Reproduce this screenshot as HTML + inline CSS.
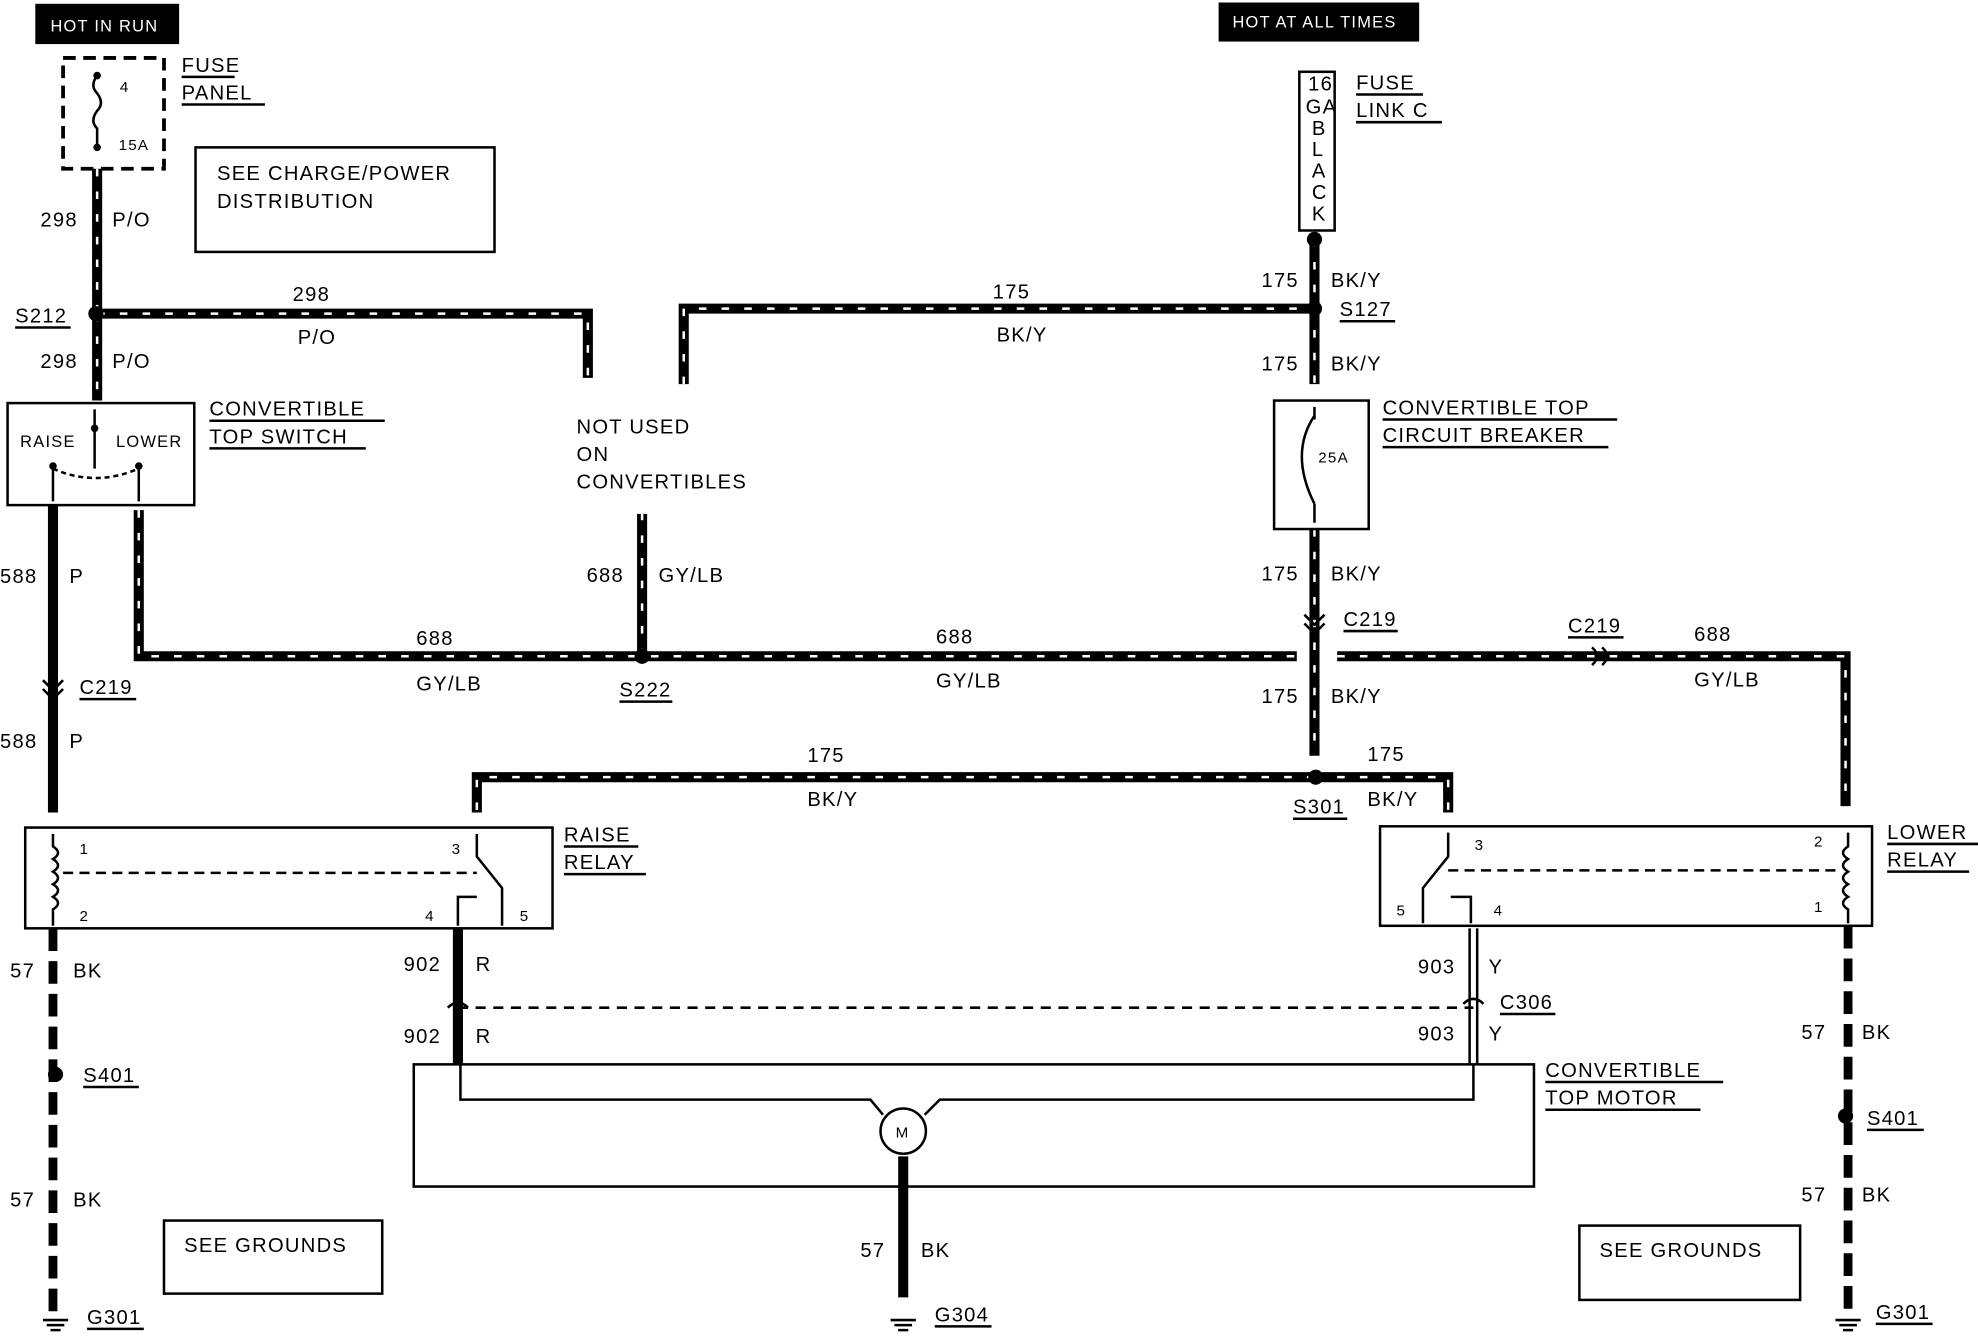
<!DOCTYPE html>
<html><head><meta charset="utf-8"><style>
html,body{margin:0;padding:0;background:#fff}
svg{display:block}
text{font-family:"Liberation Sans",sans-serif;font-size:16px;fill:#000;letter-spacing:1px}
.w{fill:none;stroke:#000;stroke-width:8}
.d{fill:none;stroke:#fff;stroke-width:2;stroke-dasharray:6 12}
.b{fill:none;stroke:#000;stroke-width:2}
.g{fill:none;stroke:#000;stroke-width:7;stroke-dasharray:18 8}
.s{fill:none;stroke:#000;stroke-width:8}
</style></head><body>
<svg width="1978" height="1344" viewBox="0 0 1568 1067" preserveAspectRatio="none">
<defs>
<path id="w1" d="M77 134 V249 M77 249 H466 V300 M77 249 V318" fill="none"/>
<path id="w2" d="M542 305 V245 H1042 M1042 190 V305" fill="none"/>
<path id="w3" d="M1042 420 V600 M1042 617 H378 V645 M1042 617 H1148 V645" fill="none"/>
<path id="w4" d="M110 405 V521 H1028 M509 521 V408 M1060 521 H1463 V640" fill="none"/>
</defs>
<rect x="28" y="3" width="114" height="32" fill="#000"/>
<text x="40" y="25" style="fill:#fff;font-size:13px">HOT IN RUN</text>
<rect x="966" y="2" width="159" height="31" fill="#000"/>
<text x="977" y="22" style="fill:#fff;font-size:13px">HOT AT ALL TIMES</text>

<rect x="50" y="46" width="80" height="88" fill="none" stroke="#000" stroke-width="3" stroke-dasharray="10 6"/>
<path d="M77 60 q-6 8 0 14 q6 8 0 14 q-6 8 0 14 v16" class="b"/>
<circle cx="77" cy="60" r="3"/><circle cx="77" cy="117" r="3"/>
<text x="95" y="73" style="font-size:12px">4</text>
<text x="94" y="119" style="font-size:12px">15A</text>
<text x="144" y="57">FUSE</text><text x="144" y="79">PANEL</text>
<line x1="144" y1="61" x2="186" y2="61" class="b"/><line x1="144" y1="83" x2="210" y2="83" class="b"/>
<rect x="155" y="117" width="237" height="83" class="b"/>
<text x="172" y="143">SEE CHARGE/POWER</text><text x="172" y="165">DISTRIBUTION</text>

<rect x="1030" y="57" width="28" height="126" class="b"/>
<g style="font-size:11px;letter-spacing:0">
<text x="1037" y="72">16</text><text x="1035" y="90">GA</text><text x="1040" y="107">B</text><text x="1040" y="124">L</text><text x="1040" y="141">A</text><text x="1040" y="158">C</text><text x="1040" y="175">K</text></g>
<text x="1075" y="71">FUSE</text><text x="1075" y="93">LINK C</text>
<line x1="1075" y1="75" x2="1128" y2="75" class="b"/><line x1="1075" y1="97" x2="1143" y2="97" class="b"/>

<use href="#w1" class="w"/><use href="#w1" class="d"/>
<use href="#w2" class="w"/><use href="#w2" class="d"/>
<use href="#w3" class="w"/><use href="#w3" class="d"/>
<use href="#w4" class="w"/><use href="#w4" class="d"/>
<path d="M42 401 V645 M363 737 V845 M716 918 V1030" class="s"/>
<path d="M1165 737 V845 M1171 737 V845" class="b"/>
<path d="M42 737 V1045 M1465 735 V1045" class="g"/>
<line x1="363" y1="800" x2="1168" y2="800" stroke="#000" stroke-width="2" stroke-dasharray="8 6"/>

<g>
<circle cx="76" cy="249" r="6"/><circle cx="1042" cy="190" r="6"/><circle cx="1042" cy="245" r="6"/>
<circle cx="509" cy="521" r="6"/><circle cx="1043" cy="617" r="6"/><circle cx="44" cy="853" r="6"/><circle cx="1463" cy="886" r="6"/>
</g>
<path d="M34 540 l8 8 l8-8 M34 547 l8 8 l8-8 M1034 488 l8 8 l8-8 M1034 495 l8 8 l8-8" class="b" stroke-width="3"/>
<path d="M1262 514 q8 7 0 14 M1270 514 q8 7 0 14" class="b" stroke-width="3"/>
<path d="M355 800 q8 -8 16 0 M1160 797 q8 -8 16 0" class="b" stroke-width="3"/>

<rect x="6" y="320" width="148" height="81" class="b"/>
<text x="16" y="355" style="font-size:13px">RAISE</text><text x="92" y="355" style="font-size:13px">LOWER</text>
<line x1="75" y1="325" x2="75" y2="372" class="b"/><circle cx="75" cy="340" r="3"/>
<path d="M42 372 q33 15 68 0" class="b" stroke-dasharray="4 3"/>
<circle cx="42" cy="370" r="3"/><circle cx="110" cy="370" r="3"/>
<line x1="42" y1="370" x2="42" y2="398" class="b"/><line x1="110" y1="370" x2="110" y2="398" class="b"/>
<text x="166" y="330">CONVERTIBLE</text><text x="166" y="352">TOP SWITCH</text>
<line x1="166" y1="334" x2="305" y2="334" class="b"/><line x1="166" y1="356" x2="290" y2="356" class="b"/>

<text x="457" y="344">NOT USED</text><text x="457" y="366">ON</text><text x="457" y="388">CONVERTIBLES</text>

<rect x="1010" y="318" width="75" height="102" class="b"/>
<path d="M1042 330 q-20 30 0 70 M1042 323 v10 M1042 400 v15" class="b"/>
<text x="1045" y="367" style="font-size:12px">25A</text>
<text x="1096" y="329">CONVERTIBLE TOP</text><text x="1096" y="351">CIRCUIT BREAKER</text>
<line x1="1096" y1="333" x2="1282" y2="333" class="b"/><line x1="1096" y1="355" x2="1275" y2="355" class="b"/>

<rect x="20" y="657" width="418" height="80" class="b"/>
<path d="M42 662 V672 q8 5 0 10 q8 5 0 10 q8 5 0 10 q8 5 0 10 q8 5 0 10 V735" class="b"/>
<line x1="50" y1="693" x2="378" y2="693" class="b" stroke-dasharray="8 5"/>
<text x="63" y="678" style="font-size:12px">1</text><text x="63" y="731" style="font-size:12px">2</text>
<path d="M378 662 V680 L398 705 V735 M363 735 V712 H378" class="b"/>
<text x="358" y="678" style="font-size:12px">3</text><text x="337" y="731" style="font-size:12px">4</text><text x="412" y="731" style="font-size:12px">5</text>
<text x="447" y="668">RAISE</text><text x="447" y="690">RELAY</text>
<line x1="447" y1="672" x2="506" y2="672" class="b"/><line x1="447" y1="694" x2="512" y2="694" class="b"/>

<rect x="1094" y="656" width="390" height="79" class="b"/>
<path d="M1465 661 V672 q-8 5 0 10 q-8 5 0 10 q-8 5 0 10 q-8 5 0 10 q-8 5 0 10 V733" class="b"/>
<line x1="1148" y1="691" x2="1455" y2="691" class="b" stroke-dasharray="8 5"/>
<text x="1438" y="672" style="font-size:12px">2</text><text x="1438" y="724" style="font-size:12px">1</text>
<path d="M1148 661 V680 L1128 705 V733 M1166 733 V712 H1150" class="b"/>
<text x="1169" y="675" style="font-size:12px">3</text><text x="1107" y="727" style="font-size:12px">5</text><text x="1184" y="727" style="font-size:12px">4</text>
<text x="1496" y="666">LOWER</text><text x="1496" y="688">RELAY</text>
<line x1="1496" y1="670" x2="1568" y2="670" class="b"/><line x1="1496" y1="692" x2="1561" y2="692" class="b"/>

<rect x="328" y="845" width="888" height="97" class="b"/>
<path d="M365 845 V873 H690 L700 885 M1168 845 V873 H745 L733 885" class="b"/>
<circle cx="716" cy="898" r="18" fill="#fff" stroke="#000" stroke-width="2"/>
<text x="710" y="903" style="font-size:12px">M</text>
<text x="1225" y="855">CONVERTIBLE</text><text x="1225" y="877">TOP MOTOR</text>
<line x1="1225" y1="859" x2="1366" y2="859" class="b"/><line x1="1225" y1="881" x2="1348" y2="881" class="b"/>

<g class="b">
<path d="M34 1048 h20 M37 1052 h14 M40 1056 h8"/>
<path d="M706 1048 h20 M709 1052 h14 M712 1056 h8"/>
<path d="M1455 1048 h20 M1458 1052 h14 M1461 1056 h8"/>
</g>
<rect x="130" y="969" width="173" height="58" class="b"/><text x="146" y="994">SEE GROUNDS</text>
<rect x="1252" y="973" width="175" height="59" class="b"/><text x="1268" y="998">SEE GROUNDS</text>

<g>
<text x="32" y="180">298</text><text x="89" y="180">P/O</text>
<text x="12" y="256">S212</text><line x1="12" y1="260" x2="56" y2="260" class="b"/>
<text x="32" y="292">298</text><text x="89" y="292">P/O</text>
<text x="232" y="239">298</text><text x="236" y="273">P/O</text>
<text x="787" y="237">175</text><text x="790" y="271">BK/Y</text>
<text x="1000" y="228">175</text><text x="1055" y="228">BK/Y</text>
<text x="1062" y="251">S127</text><line x1="1062" y1="255" x2="1106" y2="255" class="b"/>
<text x="1000" y="294">175</text><text x="1055" y="294">BK/Y</text>
<text x="1000" y="461">175</text><text x="1055" y="461">BK/Y</text>
<text x="1065" y="497">C219</text><line x1="1065" y1="501" x2="1108" y2="501" class="b"/>
<text x="1000" y="558">175</text><text x="1055" y="558">BK/Y</text>
<text x="0" y="463">588</text><text x="55" y="463">P</text>
<text x="63" y="551">C219</text><line x1="63" y1="555" x2="108" y2="555" class="b"/>
<text x="0" y="594">588</text><text x="55" y="594">P</text>
<text x="465" y="462">688</text><text x="522" y="462">GY/LB</text>
<text x="330" y="512">688</text><text x="330" y="548">GY/LB</text>
<text x="491" y="553">S222</text><line x1="491" y1="557" x2="533" y2="557" class="b"/>
<text x="742" y="511">688</text><text x="742" y="546">GY/LB</text>
<text x="1243" y="502">C219</text><line x1="1243" y1="506" x2="1287" y2="506" class="b"/>
<text x="1343" y="509">688</text><text x="1343" y="545">GY/LB</text>
<text x="640" y="605">175</text><text x="640" y="640">BK/Y</text>
<text x="1084" y="604">175</text><text x="1084" y="640">BK/Y</text>
<text x="1025" y="646">S301</text><line x1="1025" y1="650" x2="1068" y2="650" class="b"/>
<text x="8" y="776">57</text><text x="58" y="776">BK</text>
<text x="66" y="859">S401</text><line x1="66" y1="863" x2="110" y2="863" class="b"/>
<text x="8" y="958">57</text><text x="58" y="958">BK</text>
<text x="69" y="1051">G301</text><line x1="69" y1="1055" x2="114" y2="1055" class="b"/>
<text x="320" y="771">902</text><text x="377" y="771">R</text>
<text x="320" y="828">902</text><text x="377" y="828">R</text>
<text x="1124" y="773">903</text><text x="1180" y="773">Y</text>
<text x="1189" y="801">C306</text><line x1="1189" y1="805" x2="1233" y2="805" class="b"/>
<text x="1124" y="826">903</text><text x="1180" y="826">Y</text>
<text x="682" y="998">57</text><text x="730" y="998">BK</text>
<text x="741" y="1049">G304</text><line x1="741" y1="1053" x2="786" y2="1053" class="b"/>
<text x="1428" y="825">57</text><text x="1476" y="825">BK</text>
<text x="1480" y="893">S401</text><line x1="1480" y1="897" x2="1525" y2="897" class="b"/>
<text x="1428" y="954">57</text><text x="1476" y="954">BK</text>
<text x="1487" y="1047">G301</text><line x1="1487" y1="1051" x2="1532" y2="1051" class="b"/>
</g>
</svg>
</body></html>
